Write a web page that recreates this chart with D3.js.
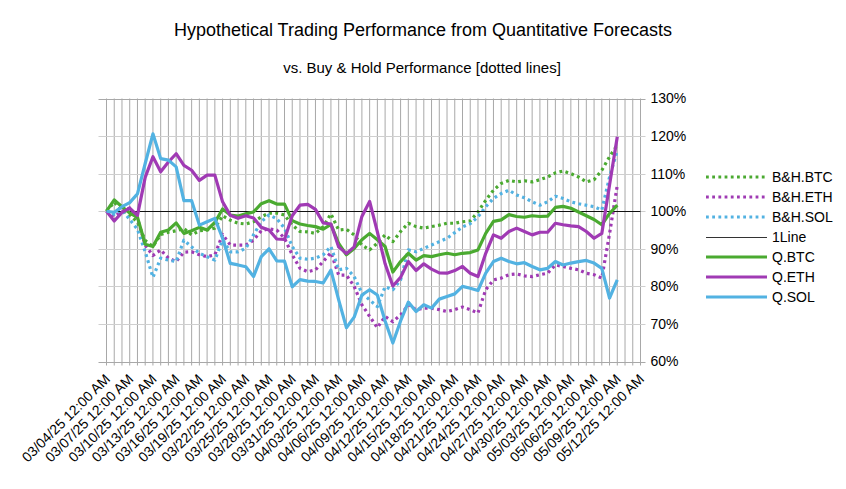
<!DOCTYPE html>
<html>
<head>
<meta charset="utf-8">
<script src="https://cdn.jsdelivr.net/npm/d3@7"></script>
<style>
  html, body { margin: 0; padding: 0; background: #fff; }
  svg { display: block; font-family: "Liberation Sans", Arial, sans-serif; }
</style>
</head>
<body>
<div id="chart"></div>
<script>
// daily closes, 03/04/25 .. 05/09/25, as % of start value
const startDay = "2025-03-04";
const axisEndDay = "2025-05-12";

const qBTC = [100, 103, 101.2, 99.5, 98.4, 91.2, 90.6, 94.4, 95, 96.9, 94.1, 94.8, 95.7, 95, 97, 100.6, 99, 98.7, 99.3, 99.8,
  102, 102.8, 101.9, 101.9, 97.5, 96.6, 96.2, 95.9, 95.2, 96.5, 91.4, 88.4, 90.1, 92.4, 94.1, 92.4, 90.6, 83.8, 86.6, 88.8,
  87, 88.2, 87.9, 88.4, 88.8, 88.4, 88.8, 89, 89.7, 94.1, 97.3, 97.7, 99.1, 98.6, 98.4, 98.8, 98.6, 98.7, 101, 101.3,
  100.8, 99.8, 98.8, 97.8, 96.4, 99.4, 101.6];
const qETH = [100, 97.4, 99.7, 100.8, 98.9, 109, 114.5, 110.5, 113.1, 115.3, 112.2, 110.9, 108.2, 109.6, 109.6, 102.5, 98.9, 98.1, 98.8, 98.2,
  95.7, 95, 92.6, 92.5, 98.8, 101.6, 101.8, 100.5, 96.9, 96.6, 90.5, 88.7, 90.5, 98.6, 102.6, 94.5, 86, 80.1, 82.4, 86.6,
  84.2, 86, 84.6, 83.6, 83.5, 84.2, 85.3, 83.5, 82.6, 88.8, 93.7, 92.8, 94.6, 95.5, 94.6, 93.7, 94.4, 94.4, 96.8, 96.4,
  96.1, 95.9, 94.6, 92.8, 94.1, 107, 119.8];
const qSOL = [100, 99.7, 101.2, 102.3, 104.6, 112.7, 120.6, 114, 113.6, 111.8, 102.8, 102.8, 96.3, 97.2, 98.1, 92.8, 86.1, 85.7, 85.2, 82.6,
  87.9, 90, 86.8, 86.7, 79.9, 81.8, 81.4, 81.3, 80.9, 84.3, 76.4, 69, 71.8, 77.7, 79.1, 77.7, 70.8, 64.9, 70.8, 75.8,
  73.3, 75.1, 74.2, 76.6, 77.3, 78, 80, 79.5, 78.9, 83.5, 86.6, 87.5, 86.6, 86, 86.3, 85.3, 84.4, 84.8, 86.6, 85.7,
  86.2, 86.6, 86.9, 86.2, 84.8, 76.9, 81.7];
const bhBTC = [100, 102.4, 100.3, 99, 97.1, 92.2, 90.6, 93.8, 94.4, 94.8, 95.4, 93.7, 94.8, 95, 95.5, 98.8, 97.6, 96.8, 96.6, 97.2,
  98.5, 99.5, 99.5, 99, 96.3, 94.6, 94.5, 94.1, 95.9, 99.3, 95, 95.2, 93.7, 91, 89.7, 91.5, 93.7, 91.9, 94.6, 96.8,
  95.9, 95.5, 95.9, 96.3, 96.8, 96.8, 97.2, 97.4, 99.8, 102.9, 105.6, 107.4, 108.2, 107.8, 108.1, 107.8, 108.4, 109.1, 110.2, 110.7,
  110, 109.1, 107.8, 108.4, 110.9, 114.5, 117.6];
const bhETH = [100, 98.6, 99.9, 100.9, 98.1, 91, 88.2, 89.7, 87.5, 86.6, 89.1, 89.2, 88.4, 87.9, 88.4, 93.8, 91, 91, 91, 92.3,
  94.8, 95.3, 95, 92.8, 88.4, 84.8, 83.9, 84.4, 86.6, 89, 83, 83, 80, 75.1, 72, 69, 72, 70.6, 72.4, 75.1,
  73.8, 74.2, 74.2, 73.8, 73.3, 73.8, 74.5, 73.8, 72.9, 79.1, 81.7, 82.2, 83.1, 83.3, 82.8, 82.6, 83.1, 83.5, 85.7, 85.3,
  84.8, 84.4, 83.5, 83.1, 82.2, 94, 106.9];
const bhSOL = [100, 99.2, 100.3, 97.8, 95.2, 89.2, 82.4, 87.5, 87, 86.6, 92.3, 90.5, 88.8, 87.9, 87, 92.3, 89.2, 89.2, 90.1, 93.7,
  97.2, 99, 98, 95.5, 90.6, 87.5, 87.2, 87.5, 88.4, 90.6, 84.4, 84.8, 82.6, 78.2, 76.4, 74.6, 79.9, 79.1, 81.7, 89.7,
  89.2, 90.1, 91, 91.9, 92.8, 94.3, 95.8, 96.7, 98.5, 101.2, 103.4, 104.7, 105.6, 104.3, 103.6, 102.5, 101.6, 102.5, 104, 103.4,
  102.5, 102, 101.6, 101.2, 100.3, 109.1, 116.2];
const oneLine = 100;

const yTicks = [60, 70, 80, 90, 100, 110, 120, 130];
const xTickLabels = ["03/04/25", "03/07/25", "03/10/25", "03/13/25", "03/16/25", "03/19/25", "03/22/25", "03/25/25",
  "03/28/25", "03/31/25", "04/03/25", "04/06/25", "04/09/25", "04/12/25", "04/15/25", "04/18/25", "04/21/25",
  "04/24/25", "04/27/25", "04/30/25", "05/03/25", "05/06/25", "05/09/25", "05/12/25"];

const green = "#4aaa30", purple = "#a03ab4", blue = "#52b2e2";

const series = [
  { key: "B&H.BTC", values: bhBTC, color: green, dotted: true },
  { key: "B&H.ETH", values: bhETH, color: purple, dotted: true },
  { key: "B&H.SOL", values: bhSOL, color: blue, dotted: true },
  { key: "1Line", values: null, color: "#111", thin: true },
  { key: "Q.BTC", values: qBTC, color: green },
  { key: "Q.ETH", values: qETH, color: purple },
  { key: "Q.SOL", values: qSOL, color: blue }
];

const width = 846, height = 489;
const plot = { left: 106.5, right: 640.5, top: 98.5, bottom: 361.5 };

const parse = d3.utcParse("%Y-%m-%d");
const parseTick = d3.utcParse("%m/%d/%y");
const t0 = parse(startDay), t1 = parse(axisEndDay);
const days = d3.utcDay.range(t0, d3.utcDay.offset(t1, 1));
const dataDays = days.slice(0, qBTC.length);

const x = d3.scaleUtc().domain([t0, t1]).range([plot.left, plot.right]);
const y = d3.scaleLinear().domain([60, 130]).range([plot.bottom, plot.top]);

const svg = d3.select("#chart").append("svg")
  .attr("width", width)
  .attr("height", height)
  .attr("viewBox", `0 0 ${width} ${height}`);

svg.append("text")
  .attr("x", 423).attr("y", 36)
  .attr("text-anchor", "middle")
  .style("font-size", "18px")
  .text("Hypothetical Trading Performance from Quantitative Forecasts");

svg.append("text")
  .attr("x", 422).attr("y", 73)
  .attr("text-anchor", "middle")
  .style("font-size", "15px")
  .text("vs. Buy & Hold Performance [dotted lines]");

// vertical grid, one line per day
svg.append("g")
  .selectAll("line")
  .data(days)
  .enter()
  .append("line")
    .attr("x1", d => x(d)).attr("x2", d => x(d))
    .attr("y1", plot.top).attr("y2", plot.bottom + 4)
    .style("stroke", "#a8a8a8")
    .style("stroke-width", 1);

// horizontal grid + right axis ticks
svg.append("g")
  .selectAll("line")
  .data(yTicks)
  .enter()
  .append("line")
    .attr("x1", plot.left - 8).attr("x2", plot.right + 5)
    .attr("y1", d => Math.round(y(d)) + 0.5).attr("y2", d => Math.round(y(d)) + 0.5)
    .style("stroke", d => (d === 60 || d === 130) ? "#a8a8a8" : "#cfcfcf")
    .style("stroke-width", 1);

svg.append("g")
  .attr("transform", `translate(${plot.right + 10}, 0)`)
  .selectAll("text")
  .data(yTicks)
  .enter()
  .append("text")
    .attr("y", d => y(d))
    .attr("dy", "0.35em")
    .style("font-size", "14px")
    .text(d => d + "%");

svg.append("g")
  .selectAll("text")
  .data(xTickLabels)
  .enter()
  .append("text")
    .attr("transform", d => `translate(${x(parseTick(d)) + 1}, ${plot.bottom + 15}) rotate(-45)`)
    .attr("text-anchor", "end")
    .attr("dy", "0.35em")
    .style("font-size", "14px")
    .text(d => d + " 12:00 AM");

const line = d3.line()
  .x((d, i) => x(dataDays[i]))
  .y(d => y(d));

const chart = svg.append("g").attr("class", "chart");

series.forEach(s => {
  if (s.thin) {
    chart.append("line")
      .attr("x1", x(t0)).attr("x2", x(t1))
      .attr("y1", Math.round(y(oneLine)) + 0.5).attr("y2", Math.round(y(oneLine)) + 0.5)
      .style("stroke", s.color)
      .style("stroke-width", 1);
    return;
  }
  chart.append("path")
    .attr("d", line(s.values))
    .style("fill", "none")
    .style("stroke", s.color)
    .style("stroke-width", 3.2)
    .style("stroke-linejoin", "round")
    .style("stroke-dasharray", s.dotted ? "2.8,3.4" : null);
});

// legend
const legend = svg.append("g")
  .attr("transform", "translate(706, 177)")
  .selectAll("g")
  .data(series)
  .enter()
  .append("g")
    .attr("transform", (d, i) => `translate(0, ${i * 20})`);

legend.append("line")
  .attr("x1", 0).attr("x2", 61)
  .attr("y1", d => d.thin ? 0.5 : 0).attr("y2", d => d.thin ? 0.5 : 0)
  .style("stroke", d => d.thin ? "#333" : d.color)
  .style("stroke-width", d => d.thin ? 1 : 3.2)
  .style("stroke-dasharray", d => d.dotted ? "2.8,3.4" : null);

legend.append("text")
  .attr("x", 66)
  .attr("dy", "0.35em")
  .style("font-size", "14px")
  .text(d => d.key);
</script>
</body>
</html>
